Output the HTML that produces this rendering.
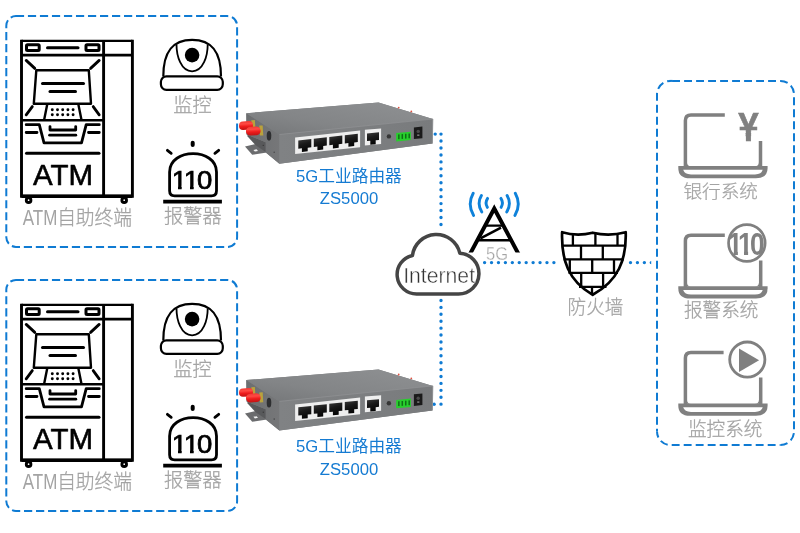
<!DOCTYPE html>
<html lang="zh-CN">
<head>
<meta charset="utf-8">
<title>5G工业路由器 ZS5000 ATM 组网</title>
<style>html,body{margin:0;padding:0;background:#fff;overflow:hidden}svg{display:block;will-change:transform}</style>
</head>
<body>
<svg width="800" height="533" viewBox="0 0 800 533">
<defs><linearGradient id="gred" x1="0" y1="0" x2="0" y2="1"><stop offset="0" stop-color="#f03a34"/><stop offset="0.3" stop-color="#ff4a44"/><stop offset="0.6" stop-color="#ee1c1c"/><stop offset="1" stop-color="#c01414"/></linearGradient><linearGradient id="gfront" x1="0" y1="0" x2="1" y2="0"><stop offset="0" stop-color="#808284"/><stop offset="1" stop-color="#797b7d"/></linearGradient><linearGradient id="gport" x1="0" y1="0" x2="0.3" y2="1"><stop offset="0" stop-color="#3c3c3c"/><stop offset="0.45" stop-color="#1a1a1a"/><stop offset="1" stop-color="#050505"/></linearGradient><linearGradient id="gtop" x1="0" y1="0.8" x2="0.8" y2="0"><stop offset="0" stop-color="#787a7c"/><stop offset="0.35" stop-color="#838587"/><stop offset="1" stop-color="#8d8f91"/></linearGradient><linearGradient id="gleft" x1="0" y1="0" x2="1" y2="0"><stop offset="0" stop-color="#6c6e70"/><stop offset="1" stop-color="#767779"/></linearGradient><clipPath id="cdots"><rect x="620" y="255" width="31.2" height="15"/></clipPath><clipPath id="ctower"><rect x="460" y="200" width="70" height="52.6"/></clipPath><clipPath id="c110a"><rect x="165.70" y="158.10" width="52.59" height="27.63"/><rect x="178.02" y="184.73" width="3.63" height="7.27"/><rect x="190.02" y="184.73" width="3.63" height="7.27"/><rect x="198.35" y="184.73" width="21.29" height="8.27"/></clipPath><clipPath id="c110b"><rect x="721.87" y="217.90" width="48.78" height="33.04"/><rect x="733.77" y="249.94" width="4.12" height="8.16"/><rect x="743.97" y="249.94" width="4.12" height="8.16"/><rect x="752.34" y="249.94" width="20.65" height="9.16"/></clipPath><clipPath id="cyen"><rect x="718.4" y="96.12" width="60" height="35.75"/><rect x="745.63" y="130.87" width="5.48" height="12.13"/></clipPath></defs>
<rect width="800" height="533" fill="#fff"/>
<rect x="6.3" y="16.1" width="230.8" height="230.8" rx="9.6" ry="9.6" fill="none" stroke="#0f7bd3" stroke-width="2" stroke-dasharray="8.2 3.812" stroke-dashoffset="0"/>
<rect x="6.3" y="279.9" width="230.8" height="231" rx="9.6" ry="9.6" fill="none" stroke="#0f7bd3" stroke-width="2" stroke-dasharray="8.2 3.812" stroke-dashoffset="0"/>
<g fill="none" stroke="#0f7bd3" stroke-width="2.0" stroke-dasharray="7.9 4.1"><path d="M670.5 80.9 H780.5 A13.5 13.5 0 0 1 794 94.4" stroke-dashoffset="10.4"/><path d="M794 94.4 V431.5 A13.5 13.5 0 0 1 780.5 445" stroke-dashoffset="9.15"/><path d="M780.5 445 H670.5 A13.5 13.5 0 0 1 657 431.5" stroke-dashoffset="7.1"/><path d="M657 431.5 V94.4 A13.5 13.5 0 0 1 670.5 80.9" stroke-dashoffset="5.25"/><path d="M669.5 80.9 h3" stroke-dasharray="none"/></g>
<g transform="translate(0,0)" fill="none" stroke="#000" stroke-width="2.8" stroke-linecap="round" stroke-linejoin="round"><path d="M21.5 39.7 V196.3 H132.4 V39.7" stroke-linejoin="miter" stroke-linecap="butt" stroke-width="2.9"/><line x1="21.5" y1="40.8" x2="132.4" y2="40.8" stroke-width="2.2" stroke-linecap="butt"/><line x1="21.5" y1="196.3" x2="132.4" y2="196.3" stroke-width="3.4" stroke-linecap="butt"/><line x1="103.6" y1="41" x2="103.6" y2="196.3" stroke-width="2.9" stroke-linecap="butt"/><line x1="21.5" y1="55.1" x2="132.4" y2="55.1" stroke-width="2.9" stroke-linecap="butt"/><rect x="26.5" y="44.8" width="12.7" height="5.6" rx="1" stroke-width="3"/><rect x="86" y="44.8" width="13" height="5.6" rx="1" stroke-width="3"/><line x1="47.5" y1="47.7" x2="78" y2="47.7" stroke-width="3"/><path d="M36.3 70.3 H88.8 L91 103.7 H33.8 Z" stroke-width="2.4"/><line x1="42.5" y1="83.6" x2="83.5" y2="83.6" stroke-width="3"/><line x1="50" y1="91.6" x2="75.5" y2="91.6" stroke-width="3"/><path d="M26.2 60.4 L34.8 68.4 M99.2 60.4 L90.6 68.4 M32.3 106.6 L26.2 114.8 M93.2 106.6 L99.2 114.8" stroke-width="2.8"/><path d="M47.2 104.5 L44.2 119.5 M78.4 104.5 L81.4 119.5" stroke-width="2.4" stroke-linecap="butt"/><circle cx="52.3" cy="109.7" r="1.45" fill="#000" stroke="none"/><circle cx="57.5" cy="109.7" r="1.45" fill="#000" stroke="none"/><circle cx="62.7" cy="109.7" r="1.45" fill="#000" stroke="none"/><circle cx="67.9" cy="109.7" r="1.45" fill="#000" stroke="none"/><circle cx="73.1" cy="109.7" r="1.45" fill="#000" stroke="none"/><circle cx="52.3" cy="114.7" r="1.45" fill="#000" stroke="none"/><circle cx="57.5" cy="114.7" r="1.45" fill="#000" stroke="none"/><circle cx="62.7" cy="114.7" r="1.45" fill="#000" stroke="none"/><circle cx="67.9" cy="114.7" r="1.45" fill="#000" stroke="none"/><circle cx="73.1" cy="114.7" r="1.45" fill="#000" stroke="none"/><line x1="21.5" y1="120.2" x2="103.6" y2="120.2" stroke-width="2.6" stroke-linecap="butt"/><path d="M26.2 124.7 H39.3 L44 142.8 H81.5 L86.2 124.7 H99.3" stroke-width="2.8"/><path d="M26.2 132.5 H37 M88.5 132.5 H99.3" stroke-width="2.8"/><path d="M50 126.6 V130 H75.7 V126.6" stroke-width="2.8"/><line x1="49.6" y1="135.2" x2="75.8" y2="135.2" stroke-width="2.8"/><line x1="26.5" y1="153.3" x2="99" y2="153.3" stroke-width="3"/><circle cx="28.6" cy="200.2" r="2.3" stroke-width="2.9"/><circle cx="124.2" cy="200.2" r="2.3" stroke-width="2.9"/></g><text transform="translate(63.1,185) scale(1.0,1)" text-anchor="middle" font-family="Liberation Sans, Noto Sans CJK SC, sans-serif" font-weight="400" font-size="29.5" fill="#000" stroke="#000" stroke-width="0.6" stroke-linejoin="round">ATM</text><text transform="translate(22.7,225.2) scale(1,1.08)" font-family="Liberation Sans, Noto Sans CJK SC, sans-serif" font-weight="300" font-size="18.9" fill="#a3a3a3" stroke="#a3a3a3" stroke-width="0.25"><tspan font-size="20.6" textLength="34.6" lengthAdjust="spacingAndGlyphs" stroke="none">ATM</tspan><tspan x="34.45" textLength="74.85" lengthAdjust="spacingAndGlyphs">自助终端</tspan></text>
<g transform="translate(0,0)" fill="none" stroke="#000" stroke-width="2.2"><path d="M163.3 76.5 C163.3 51.5, 172.5 39.8, 192.1 39.8 C211.7 39.8, 221 51.5, 221 76.5"/><rect x="160.9" y="76.3" width="61.9" height="13.5" rx="5.5" fill="#fff"/><path d="M176.5 44.5 C176.5 56, 181 71.3, 192.1 71.3 C203.2 71.3, 207.7 56, 207.7 44.5" stroke-width="1.8"/><circle cx="192.1" cy="55.1" r="7.3" fill="#000" stroke="none"/></g><text transform="translate(192.5,112) scale(1,1.01)" text-anchor="middle" font-family="Liberation Sans, Noto Sans CJK SC, sans-serif" font-weight="300" font-size="19.2" fill="#a3a3a3" stroke="#a3a3a3" stroke-width="0.25">监控</text>
<g transform="translate(0,0)" fill="none" stroke="#000" stroke-width="2.8" stroke-linecap="round"><path d="M169.6 190.8 V172 C169.6 147.6, 216.5 147.6, 216.5 172 V190.8 Q216.5 195.8 211.5 195.8 H174.6 Q169.6 195.8 169.6 190.8 Z"/><line x1="163.2" y1="201.7" x2="221.9" y2="201.7" stroke-width="3.8" stroke-linecap="butt"/><path d="M192.7 142.8 V144.9" stroke-width="4"/><path d="M167.4 150.3 L171.2 153.3 M218.7 150.3 L214.9 153.3" stroke-width="2.8"/></g><g transform="translate(0,0)"><g clip-path="url(#c110a)"><text transform="translate(171.70,189) scale(1.1,1.03)" x="0.00 10.91 23.00" font-family="Liberation Sans, Noto Sans CJK SC, sans-serif" font-weight="400" font-size="25" fill="#000" stroke="#000" stroke-width="0.7" style="font-kerning:none">110</text></g></g><text transform="translate(192.8,223.2) scale(1,1.01)" text-anchor="middle" font-family="Liberation Sans, Noto Sans CJK SC, sans-serif" font-weight="300" font-size="19.2" fill="#a3a3a3" stroke="#a3a3a3" stroke-width="0.25">报警器</text>
<g transform="translate(0,264)" fill="none" stroke="#000" stroke-width="2.8" stroke-linecap="round" stroke-linejoin="round"><path d="M21.5 39.7 V196.3 H132.4 V39.7" stroke-linejoin="miter" stroke-linecap="butt" stroke-width="2.9"/><line x1="21.5" y1="40.8" x2="132.4" y2="40.8" stroke-width="2.2" stroke-linecap="butt"/><line x1="21.5" y1="196.3" x2="132.4" y2="196.3" stroke-width="3.4" stroke-linecap="butt"/><line x1="103.6" y1="41" x2="103.6" y2="196.3" stroke-width="2.9" stroke-linecap="butt"/><line x1="21.5" y1="55.1" x2="132.4" y2="55.1" stroke-width="2.9" stroke-linecap="butt"/><rect x="26.5" y="44.8" width="12.7" height="5.6" rx="1" stroke-width="3"/><rect x="86" y="44.8" width="13" height="5.6" rx="1" stroke-width="3"/><line x1="47.5" y1="47.7" x2="78" y2="47.7" stroke-width="3"/><path d="M36.3 70.3 H88.8 L91 103.7 H33.8 Z" stroke-width="2.4"/><line x1="42.5" y1="83.6" x2="83.5" y2="83.6" stroke-width="3"/><line x1="50" y1="91.6" x2="75.5" y2="91.6" stroke-width="3"/><path d="M26.2 60.4 L34.8 68.4 M99.2 60.4 L90.6 68.4 M32.3 106.6 L26.2 114.8 M93.2 106.6 L99.2 114.8" stroke-width="2.8"/><path d="M47.2 104.5 L44.2 119.5 M78.4 104.5 L81.4 119.5" stroke-width="2.4" stroke-linecap="butt"/><circle cx="52.3" cy="109.7" r="1.45" fill="#000" stroke="none"/><circle cx="57.5" cy="109.7" r="1.45" fill="#000" stroke="none"/><circle cx="62.7" cy="109.7" r="1.45" fill="#000" stroke="none"/><circle cx="67.9" cy="109.7" r="1.45" fill="#000" stroke="none"/><circle cx="73.1" cy="109.7" r="1.45" fill="#000" stroke="none"/><circle cx="52.3" cy="114.7" r="1.45" fill="#000" stroke="none"/><circle cx="57.5" cy="114.7" r="1.45" fill="#000" stroke="none"/><circle cx="62.7" cy="114.7" r="1.45" fill="#000" stroke="none"/><circle cx="67.9" cy="114.7" r="1.45" fill="#000" stroke="none"/><circle cx="73.1" cy="114.7" r="1.45" fill="#000" stroke="none"/><line x1="21.5" y1="120.2" x2="103.6" y2="120.2" stroke-width="2.6" stroke-linecap="butt"/><path d="M26.2 124.7 H39.3 L44 142.8 H81.5 L86.2 124.7 H99.3" stroke-width="2.8"/><path d="M26.2 132.5 H37 M88.5 132.5 H99.3" stroke-width="2.8"/><path d="M50 126.6 V130 H75.7 V126.6" stroke-width="2.8"/><line x1="49.6" y1="135.2" x2="75.8" y2="135.2" stroke-width="2.8"/><line x1="26.5" y1="153.3" x2="99" y2="153.3" stroke-width="3"/><circle cx="28.6" cy="200.2" r="2.3" stroke-width="2.9"/><circle cx="124.2" cy="200.2" r="2.3" stroke-width="2.9"/></g><text transform="translate(63.1,449) scale(1.0,1)" text-anchor="middle" font-family="Liberation Sans, Noto Sans CJK SC, sans-serif" font-weight="400" font-size="29.5" fill="#000" stroke="#000" stroke-width="0.6" stroke-linejoin="round">ATM</text><text transform="translate(22.7,489.2) scale(1,1.08)" font-family="Liberation Sans, Noto Sans CJK SC, sans-serif" font-weight="300" font-size="18.9" fill="#a3a3a3" stroke="#a3a3a3" stroke-width="0.25"><tspan font-size="20.6" textLength="34.6" lengthAdjust="spacingAndGlyphs" stroke="none">ATM</tspan><tspan x="34.45" textLength="74.85" lengthAdjust="spacingAndGlyphs">自助终端</tspan></text>
<g transform="translate(0,264)" fill="none" stroke="#000" stroke-width="2.2"><path d="M163.3 76.5 C163.3 51.5, 172.5 39.8, 192.1 39.8 C211.7 39.8, 221 51.5, 221 76.5"/><rect x="160.9" y="76.3" width="61.9" height="13.5" rx="5.5" fill="#fff"/><path d="M176.5 44.5 C176.5 56, 181 71.3, 192.1 71.3 C203.2 71.3, 207.7 56, 207.7 44.5" stroke-width="1.8"/><circle cx="192.1" cy="55.1" r="7.3" fill="#000" stroke="none"/></g><text transform="translate(192.5,376) scale(1,1.01)" text-anchor="middle" font-family="Liberation Sans, Noto Sans CJK SC, sans-serif" font-weight="300" font-size="19.2" fill="#a3a3a3" stroke="#a3a3a3" stroke-width="0.25">监控</text>
<g transform="translate(0,264)" fill="none" stroke="#000" stroke-width="2.8" stroke-linecap="round"><path d="M169.6 190.8 V172 C169.6 147.6, 216.5 147.6, 216.5 172 V190.8 Q216.5 195.8 211.5 195.8 H174.6 Q169.6 195.8 169.6 190.8 Z"/><line x1="163.2" y1="201.7" x2="221.9" y2="201.7" stroke-width="3.8" stroke-linecap="butt"/><path d="M192.7 142.8 V144.9" stroke-width="4"/><path d="M167.4 150.3 L171.2 153.3 M218.7 150.3 L214.9 153.3" stroke-width="2.8"/></g><g transform="translate(0,264)"><g clip-path="url(#c110a)"><text transform="translate(171.70,189) scale(1.1,1.03)" x="0.00 10.91 23.00" font-family="Liberation Sans, Noto Sans CJK SC, sans-serif" font-weight="400" font-size="25" fill="#000" stroke="#000" stroke-width="0.7" style="font-kerning:none">110</text></g></g><text transform="translate(192.8,487.2) scale(1,1.01)" text-anchor="middle" font-family="Liberation Sans, Noto Sans CJK SC, sans-serif" font-weight="300" font-size="19.2" fill="#a3a3a3" stroke="#a3a3a3" stroke-width="0.25">报警器</text>
<path d="M435.2 134.1 h0.01" fill="none" stroke="#0f7bd3" stroke-width="3.4" stroke-linecap="round" stroke-dasharray="0 6.93"/>
<path d="M441 134.1 V226" fill="none" stroke="#0f7bd3" stroke-width="3.4" stroke-linecap="round" stroke-dasharray="0 6.95"/>
<path d="M441 300.5 V406" fill="none" stroke="#0f7bd3" stroke-width="3.4" stroke-linecap="round" stroke-dasharray="0 6.91"/>
<path d="M434.1 404.2 h0.01" fill="none" stroke="#0f7bd3" stroke-width="3.4" stroke-linecap="round" stroke-dasharray="0 6.93"/>
<path d="M484.6 262.6 H556" fill="none" stroke="#0f7bd3" stroke-width="3.4" stroke-linecap="round" stroke-dasharray="0 6.93"/>
<g clip-path="url(#cdots)"><path d="M630.5 262.6 H654" fill="none" stroke="#0f7bd3" stroke-width="3.4" stroke-linecap="round" stroke-dasharray="0 6.93"/></g>
<g transform="translate(0,0)"><path d="M245 146.5 L255.6 144 L267 151.6 L267 152.6 L252.2 154.8 Z" fill="#6b6c6e"/><path d="M253.4 149.9 L256.6 149.3 L258 150.9 L254.9 151.6 Z" fill="#f4f4f4"/><path d="M247 132.8 L266.8 140.5 L266.8 152.8 L255.4 145.1 L247.6 136.6 Z" fill="#58595b"/><path d="M246.3 113.2 L378.5 102.5 L432.8 119 L432.3 143.5 L279.3 163.7 L265.8 152.6 L265.8 142.3 L246.6 134.6 Z" fill="#7b7d7f"/><path d="M246.3 113.2 L279.4 134.5 L279.4 163.7 L265.8 152.6 L265.8 142.3 L246.6 134.6 Z" fill="url(#gleft)"/><path d="M246.3 113.2 L378.5 102.5 L432.8 119 L279.4 134.5 Z" fill="url(#gtop)"/><path d="M279.4 134.5 L432.8 119 L432.3 143.5 L279.3 163.7 Z" fill="url(#gfront)"/><path d="M279.4 134.5 L432.8 119" stroke="#8f9193" stroke-width="0.8" fill="none"/><circle cx="398.7" cy="107.6" r="0.9" fill="#e05040"/><circle cx="411.3" cy="111.4" r="0.9" fill="#e05040"/><circle cx="263.3" cy="145.4" r="0.7" fill="#3a3a3a"/><circle cx="274.2" cy="152.2" r="0.8" fill="#4a4b4d"/><g transform="rotate(-3.5 246 125.5)"><rect x="251.6" y="120.6" width="3.6" height="9.4" fill="#b9a23c"/><rect x="239" y="121.3" width="14" height="8.4" rx="4" fill="url(#gred)"/></g><g transform="rotate(-3.5 253 131)"><rect x="259.6" y="126" width="3.4" height="10" fill="#b9a23c"/><rect x="246" y="126.6" width="14.6" height="8.8" rx="4.2" fill="url(#gred)"/></g><ellipse cx="269" cy="135.8" rx="2.3" ry="4.9" fill="#2e2f31"/><path d="M295.1 137.6 L360.1 130.5 L360.1 147.3 L295.1 154.1 Z" fill="#eeeeee"/><path d="M298.3 140.40 l13 -1.38 v8.3 l-3.6 .38 v3.6 l-5.8 .6 v-3.6 l-3.6 .38 Z" fill="url(#gport)"/><path d="M313.8 138.65 l13 -1.38 v8.3 l-3.6 .38 v3.6 l-5.8 .6 v-3.6 l-3.6 .38 Z" fill="url(#gport)"/><path d="M329.3 136.90 l13 -1.38 v8.3 l-3.6 .38 v3.6 l-5.8 .6 v-3.6 l-3.6 .38 Z" fill="url(#gport)"/><path d="M344.8 135.15 l13 -1.38 v8.3 l-3.6 .38 v3.6 l-5.8 .6 v-3.6 l-3.6 .38 Z" fill="url(#gport)"/><path d="M364.9 129.7 L381.1 128.4 L381.1 143.9 L364.9 145.4 Z" fill="#eeeeee"/><path d="M367 133.4 l12 -1.05 v7.6 l-3.3 .3 v3.9 l-5.4 .48 v-3.9 l-3.3 .3 Z" fill="url(#gport)"/><circle cx="388.9" cy="136.4" r="2.2" fill="#363636"/><path d="M396.2 133 L410.9 131.7 L410.9 140.1 L396.2 141.4 Z" fill="#27cf2c"/><rect x="398.10" y="134.40" width="1.5" height="4.8" fill="#0f6e16"/><rect x="401.55" y="134.10" width="1.5" height="4.8" fill="#0f6e16"/><rect x="405.00" y="133.80" width="1.5" height="4.8" fill="#0f6e16"/><rect x="408.45" y="133.50" width="1.5" height="4.8" fill="#0f6e16"/><path d="M413.9 127.4 L422.4 126.6 L422.4 138.2 L413.9 139 Z" fill="#1a1a1a"/><circle cx="418.2" cy="131.4" r="1.7" fill="#4a4a4a"/><rect x="417.2" y="134.4" width="2.2" height="1.6" fill="#777"/><path d="M432.8 119 L432.3 143.5" stroke="#909294" stroke-width="1" fill="none"/></g><text transform="translate(348.9,181.6) scale(1,1.0)" text-anchor="middle" font-family="Liberation Sans, Noto Sans CJK SC, sans-serif" font-weight="400" font-size="16.7" fill="#157bd2" >5G工业路由器</text><text transform="translate(349,204.2) scale(1,1)" text-anchor="middle" font-family="Liberation Sans, Noto Sans CJK SC, sans-serif" font-weight="400" font-size="16.7" fill="#157bd2" >ZS5000</text>
<g transform="translate(0,266.9)"><path d="M245 146.5 L255.6 144 L267 151.6 L267 152.6 L252.2 154.8 Z" fill="#6b6c6e"/><path d="M253.4 149.9 L256.6 149.3 L258 150.9 L254.9 151.6 Z" fill="#f4f4f4"/><path d="M247 132.8 L266.8 140.5 L266.8 152.8 L255.4 145.1 L247.6 136.6 Z" fill="#58595b"/><path d="M246.3 113.2 L378.5 102.5 L432.8 119 L432.3 143.5 L279.3 163.7 L265.8 152.6 L265.8 142.3 L246.6 134.6 Z" fill="#7b7d7f"/><path d="M246.3 113.2 L279.4 134.5 L279.4 163.7 L265.8 152.6 L265.8 142.3 L246.6 134.6 Z" fill="url(#gleft)"/><path d="M246.3 113.2 L378.5 102.5 L432.8 119 L279.4 134.5 Z" fill="url(#gtop)"/><path d="M279.4 134.5 L432.8 119 L432.3 143.5 L279.3 163.7 Z" fill="url(#gfront)"/><path d="M279.4 134.5 L432.8 119" stroke="#8f9193" stroke-width="0.8" fill="none"/><circle cx="398.7" cy="107.6" r="0.9" fill="#e05040"/><circle cx="411.3" cy="111.4" r="0.9" fill="#e05040"/><circle cx="263.3" cy="145.4" r="0.7" fill="#3a3a3a"/><circle cx="274.2" cy="152.2" r="0.8" fill="#4a4b4d"/><g transform="rotate(-3.5 246 125.5)"><rect x="251.6" y="120.6" width="3.6" height="9.4" fill="#b9a23c"/><rect x="239" y="121.3" width="14" height="8.4" rx="4" fill="url(#gred)"/></g><g transform="rotate(-3.5 253 131)"><rect x="259.6" y="126" width="3.4" height="10" fill="#b9a23c"/><rect x="246" y="126.6" width="14.6" height="8.8" rx="4.2" fill="url(#gred)"/></g><ellipse cx="269" cy="135.8" rx="2.3" ry="4.9" fill="#2e2f31"/><path d="M295.1 137.6 L360.1 130.5 L360.1 147.3 L295.1 154.1 Z" fill="#eeeeee"/><path d="M298.3 140.40 l13 -1.38 v8.3 l-3.6 .38 v3.6 l-5.8 .6 v-3.6 l-3.6 .38 Z" fill="url(#gport)"/><path d="M313.8 138.65 l13 -1.38 v8.3 l-3.6 .38 v3.6 l-5.8 .6 v-3.6 l-3.6 .38 Z" fill="url(#gport)"/><path d="M329.3 136.90 l13 -1.38 v8.3 l-3.6 .38 v3.6 l-5.8 .6 v-3.6 l-3.6 .38 Z" fill="url(#gport)"/><path d="M344.8 135.15 l13 -1.38 v8.3 l-3.6 .38 v3.6 l-5.8 .6 v-3.6 l-3.6 .38 Z" fill="url(#gport)"/><path d="M364.9 129.7 L381.1 128.4 L381.1 143.9 L364.9 145.4 Z" fill="#eeeeee"/><path d="M367 133.4 l12 -1.05 v7.6 l-3.3 .3 v3.9 l-5.4 .48 v-3.9 l-3.3 .3 Z" fill="url(#gport)"/><circle cx="388.9" cy="136.4" r="2.2" fill="#363636"/><path d="M396.2 133 L410.9 131.7 L410.9 140.1 L396.2 141.4 Z" fill="#27cf2c"/><rect x="398.10" y="134.40" width="1.5" height="4.8" fill="#0f6e16"/><rect x="401.55" y="134.10" width="1.5" height="4.8" fill="#0f6e16"/><rect x="405.00" y="133.80" width="1.5" height="4.8" fill="#0f6e16"/><rect x="408.45" y="133.50" width="1.5" height="4.8" fill="#0f6e16"/><path d="M413.9 127.4 L422.4 126.6 L422.4 138.2 L413.9 139 Z" fill="#1a1a1a"/><circle cx="418.2" cy="131.4" r="1.7" fill="#4a4a4a"/><rect x="417.2" y="134.4" width="2.2" height="1.6" fill="#777"/><path d="M432.8 119 L432.3 143.5" stroke="#909294" stroke-width="1" fill="none"/></g><text transform="translate(348.9,452.1) scale(1,1.0)" text-anchor="middle" font-family="Liberation Sans, Noto Sans CJK SC, sans-serif" font-weight="400" font-size="16.7" fill="#157bd2" >5G工业路由器</text><text transform="translate(349,474.7) scale(1,1)" text-anchor="middle" font-family="Liberation Sans, Noto Sans CJK SC, sans-serif" font-weight="400" font-size="16.7" fill="#157bd2" >ZS5000</text>
<path d="M416.6 294.0 A19.5 19.5 0 0 1 412.46 255.45 A24.1 24.1 0 0 1 459.82 253.14 A20.4 20.4 0 0 1 458.5 293.9 Z" fill="#fff" stroke="#454545" stroke-width="3.5" stroke-linejoin="round"/>
<text transform="translate(439.1,282.7) scale(1.06,1.1)" text-anchor="middle" font-family="Liberation Sans, Noto Sans CJK SC, sans-serif" font-weight="400" font-size="20" fill="#333" stroke="#fff" stroke-width="0.4">Internet</text>
<g fill="none" stroke="#000" clip-path="url(#ctower)"><path d="M468.1 257.6 L494.25 208.55 L520.4 257.6" stroke-width="4" stroke-linejoin="miter" stroke-miterlimit="10"/><path d="M486 225.6 H502 M478.5 240.3 H510.5" stroke-width="2.4"/><path d="M501 227.6 L480.5 238.4" stroke-width="2.5"/></g>
<g fill="none" stroke="#0f82da" stroke-width="2.9" stroke-linecap="round"><path d="M487.6 198.4 Q484.6 203 487.4 207.4 M500.9 198.4 Q503.9 203 501.1 207.4"/><path d="M481.4 195.6 Q476.6 203.8 481.8 212 M507.1 195.6 Q511.9 203.8 506.7 212"/><path d="M473.2 193.2 Q467 204.3 473.6 215.4 M515.3 193.2 Q521.5 204.3 514.9 215.4"/></g>
<text transform="translate(497,259.6) scale(0.92,1.06)" text-anchor="middle" font-family="Liberation Sans, Noto Sans CJK SC, sans-serif" font-weight="300" font-size="18" fill="#a3a3a3" stroke="#fff" stroke-width="0.3">5G</text>
<g fill="none" stroke="#000" stroke-width="2.3" stroke-linejoin="round"><path d="M562.1 232.2 Q577 236.6 592.7 232.7 Q609 236.6 625.7 232.2 C626.6 260 618 281 592.7 294.8 C568.4 281 561.2 260 562.1 232.2 Z" stroke-width="2.7"/><path d="M562 245.6 H625.6 M563.5 259.4 H624 M568.5 272.9 H618 M579 286.8 H606.5"/><path d="M572.9 233.5 V245.6 M595.4 233 V245.6 M617.5 233.5 V245.6 M581 245.6 V259.4 M602.8 245.6 V259.4 M569.8 259.4 V272.9 M592.2 259.4 V272.9 M614 259.4 V272.9 M581.2 272.9 V286.8 M603.1 272.9 V286.8 M592 286.8 V294.5"/></g>
<text transform="translate(595.5,314.4) scale(1,1.03)" text-anchor="middle" font-family="Liberation Sans, Noto Sans CJK SC, sans-serif" font-weight="300" font-size="18.6" fill="#a3a3a3" stroke="#a3a3a3" stroke-width="0.25">防火墙</text>
<g transform="translate(0,0)" fill="none" stroke="#808080" stroke-width="3.5"><path d="M724.8 115 H691 Q685.4 115 685.4 120.6 V167"/><path d="M678.3 166.1 H767.6 V168 Q767.6 178.3 756 178.3 H690 Q678.3 178.3 678.3 168 Z" fill="#808080" stroke="none"/><path d="M683.2 169.8 H762.7 Q761.5 174.4 755 174.4 H691 Q684.5 174.4 683.2 169.8 Z" fill="#fff" stroke="none"/><path d="M686.9 162.3 Q687.1 166.2 691 166.2 H686.9 Z M759 162.3 Q758.8 166.2 754.9 166.2 H759 Z" fill="#808080" stroke="none"/></g>
<g transform="translate(0,120.2)" fill="none" stroke="#808080" stroke-width="3.5"><path d="M724.8 115 H691 Q685.4 115 685.4 120.6 V167"/><path d="M678.3 166.1 H767.6 V168 Q767.6 178.3 756 178.3 H690 Q678.3 178.3 678.3 168 Z" fill="#808080" stroke="none"/><path d="M683.2 169.8 H762.7 Q761.5 174.4 755 174.4 H691 Q684.5 174.4 683.2 169.8 Z" fill="#fff" stroke="none"/><path d="M686.9 162.3 Q687.1 166.2 691 166.2 H686.9 Z M759 162.3 Q758.8 166.2 754.9 166.2 H759 Z" fill="#808080" stroke="none"/></g>
<g transform="translate(0,237.5)" fill="none" stroke="#808080" stroke-width="3.5"><path d="M723.6 115 H691 Q685.4 115 685.4 120.6 V167"/><path d="M678.3 166.1 H767.6 V168 Q767.6 178.3 756 178.3 H690 Q678.3 178.3 678.3 168 Z" fill="#808080" stroke="none"/><path d="M683.2 169.8 H762.7 Q761.5 174.4 755 174.4 H691 Q684.5 174.4 683.2 169.8 Z" fill="#fff" stroke="none"/><path d="M686.9 162.3 Q687.1 166.2 691 166.2 H686.9 Z M759 162.3 Q758.8 166.2 754.9 166.2 H759 Z" fill="#808080" stroke="none"/></g>
<path d="M760.5 140.9 V167 M760.7 260.4 V288 M760.7 377.4 V406" stroke="#808080" stroke-width="3.5" fill="none"/>
<text transform="translate(720.7,198.4) scale(1,1.0)" text-anchor="middle" font-family="Liberation Sans, Noto Sans CJK SC, sans-serif" font-weight="300" font-size="18.6" fill="#a3a3a3" stroke="#a3a3a3" stroke-width="0.25">银行系统</text>
<text transform="translate(721.2,316.8) scale(1,1.02)" text-anchor="middle" font-family="Liberation Sans, Noto Sans CJK SC, sans-serif" font-weight="300" font-size="18.6" fill="#a3a3a3" stroke="#a3a3a3" stroke-width="0.25">报警系统</text>
<text transform="translate(725.2,436.1) scale(1,1.03)" text-anchor="middle" font-family="Liberation Sans, Noto Sans CJK SC, sans-serif" font-weight="300" font-size="18.6" fill="#a3a3a3" stroke="#a3a3a3" stroke-width="0.25">监控系统</text>
<g clip-path="url(#cyen)"><text transform="translate(748.4,141) scale(0.9,1)" text-anchor="middle" font-family="Liberation Sans, Noto Sans CJK SC, sans-serif" font-weight="700" font-size="40.8" fill="#808080" stroke="#808080" stroke-width="0.6">¥</text></g>
<circle cx="746.85" cy="243" r="18.3" fill="#fff" stroke="#808080" stroke-width="2.7"/>
<g clip-path="url(#c110b)"><text transform="translate(727.87,255.1) scale(0.85,1.0)" x="0.00 12.00 26.04" font-family="Liberation Sans, Noto Sans CJK SC, sans-serif" font-weight="700" font-size="31.0" fill="#808080" style="font-kerning:none">110</text></g>
<circle cx="747.3" cy="359.6" r="17.6" fill="#fff" stroke="#808080" stroke-width="2.8"/>
<path d="M739 348.4 L759.1 360.2 L739 372.1 Z" fill="#808080"/>
</svg>
</body>
</html>
